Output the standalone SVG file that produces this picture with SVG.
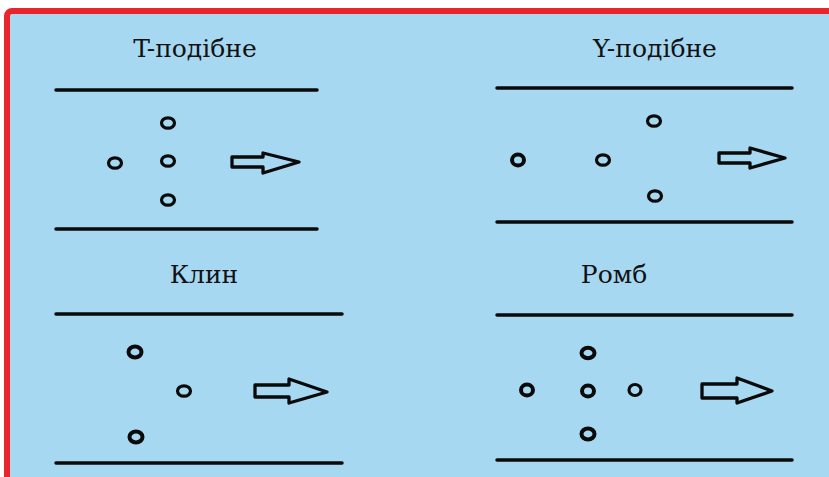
<svg xmlns="http://www.w3.org/2000/svg" width="829" height="477" viewBox="0 0 829 477">
<style>
.title{font-family:"DejaVu Serif","Liberation Serif",serif;font-size:25px;fill:#111;text-anchor:middle}
.rail{stroke:#0a0a0a;stroke-width:3.5;stroke-linecap:round}
.dot{fill:none;stroke:#0a0a0a;stroke-width:3.2}
.bold{stroke-width:4}
.arrow{fill:none;stroke:#0a0a0a;stroke-width:3.3;stroke-linejoin:round}
</style>
<rect x="0" y="0" width="829" height="477" fill="#ffffff"/>
<rect x="7" y="11" width="840" height="480" rx="5" fill="#a7d8f2" stroke="#e8252b" stroke-width="6"/>
<g id="panel-t">
<text class="title" x="195" y="57">T-подібне</text>
<line class="rail" x1="56" y1="90" x2="317" y2="90"/>
<line class="rail" x1="56" y1="229" x2="317" y2="229"/>
<ellipse class="dot" cx="168" cy="123" rx="6.5" ry="5.2"/>
<ellipse class="dot" cx="115" cy="163" rx="6.5" ry="5.2"/>
<ellipse class="dot" cx="168" cy="161" rx="6.5" ry="5.2"/>
<ellipse class="dot" cx="168" cy="200" rx="6.5" ry="5.2"/>
<path class="arrow" d="M232,157 L263,157 L263,153 L299,162 L263,173 L263,167 L232,167 Z"/>
</g>
<g id="panel-y">
<text class="title" x="655" y="57">Y-подібне</text>
<line class="rail" x1="497" y1="88" x2="792" y2="88"/>
<line class="rail" x1="497" y1="222" x2="792" y2="222"/>
<ellipse class="dot bold" cx="518" cy="160" rx="6" ry="5.5"/>
<ellipse class="dot" cx="603" cy="160" rx="6.5" ry="5.2"/>
<ellipse class="dot" cx="654" cy="121" rx="6.5" ry="5.2"/>
<ellipse class="dot" cx="655" cy="196" rx="6.5" ry="5.2"/>
<path class="arrow" d="M719,153 L750,153 L750,148 L785,158 L750,168 L750,163 L719,163 Z"/>
</g>
<g id="panel-wedge">
<text class="title" x="204" y="283">Клин</text>
<line class="rail" x1="56" y1="314" x2="342" y2="314"/>
<line class="rail" x1="56" y1="463" x2="342" y2="463"/>
<ellipse class="dot bold" cx="135" cy="352" rx="6.5" ry="5.5"/>
<ellipse class="dot" cx="184" cy="391" rx="6.5" ry="5.2"/>
<ellipse class="dot bold" cx="136" cy="437" rx="6.5" ry="5.5"/>
<path class="arrow" d="M255,385 L289,385 L289,379 L327,392 L289,403 L289,397 L255,397 Z"/>
</g>
<g id="panel-rhomb">
<text class="title" x="614" y="283">Ромб</text>
<line class="rail" x1="497" y1="315" x2="792" y2="315"/>
<line class="rail" x1="497" y1="460" x2="792" y2="460"/>
<ellipse class="dot bold" cx="527" cy="390" rx="6" ry="5.5"/>
<ellipse class="dot bold" cx="588" cy="353" rx="6.5" ry="5.2"/>
<ellipse class="dot bold" cx="588" cy="391" rx="6" ry="5.5"/>
<ellipse class="dot" cx="635" cy="390" rx="6" ry="5.5"/>
<ellipse class="dot bold" cx="588" cy="434" rx="6.5" ry="5.5"/>
<path class="arrow" d="M702,384 L737,384 L737,378 L772,391 L737,403 L737,398 L702,398 Z"/>
</g>
<g id="connectors"></g>
</svg>
